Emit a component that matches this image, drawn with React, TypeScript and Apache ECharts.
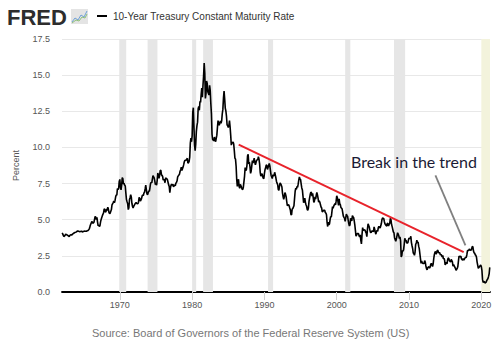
import React, { useEffect, useRef } from "react";
import * as echarts from "echarts";

// Monthly 10-year Treasury constant maturity rate (%), Jan 1962 onward
const r1960s = [
  4.08, 4.04, 3.93, 3.84, 3.87, 3.91, 4.01, 3.98, 3.98, 3.93, 3.92, 3.86,
  3.83, 3.92, 3.93, 3.97, 3.93, 3.99, 4.02, 4.0, 4.08, 4.11, 4.12, 4.13,
  4.17, 4.15, 4.22, 4.23, 4.2, 4.17, 4.19, 4.19, 4.2, 4.19, 4.15, 4.18,
  4.19, 4.21, 4.21, 4.2, 4.21, 4.21, 4.2, 4.25, 4.29, 4.35, 4.45, 4.62,
  4.61, 4.83, 4.87, 4.75, 4.78, 4.81, 5.02, 5.22, 5.18, 5.01, 5.16, 4.84,
  4.58, 4.63, 4.54, 4.59, 4.85, 5.02, 5.16, 5.28, 5.3, 5.48, 5.75, 5.7,
  5.53, 5.56, 5.74, 5.64, 5.87, 5.72, 5.5, 5.42, 5.46, 5.58, 5.7, 6.03,
  6.04, 6.19, 6.3, 6.17, 6.32, 6.57, 6.72, 6.69, 7.16, 7.1, 7.14, 7.65,
];
const r1970s = [
  7.79, 7.24, 7.07, 7.39, 7.91, 7.84, 7.46, 7.53, 7.39, 7.33, 6.84, 6.39,
  6.24, 6.11, 5.7, 5.83, 6.39, 6.52, 6.73, 6.58, 6.14, 5.93, 5.81, 5.93,
  5.95, 6.08, 6.07, 6.19, 6.13, 6.11, 6.11, 6.21, 6.55, 6.48, 6.28, 6.36,
  6.46, 6.64, 6.71, 6.67, 6.85, 6.9, 7.13, 7.4, 7.09, 6.79, 6.73, 6.74,
  6.99, 6.96, 7.21, 7.51, 7.58, 7.54, 7.81, 8.04, 8.04, 7.9, 7.68, 7.43,
  7.5, 7.39, 7.73, 8.23, 8.06, 7.86, 8.06, 8.4, 8.43, 8.14, 8.05, 8.0,
  7.74, 7.79, 7.73, 7.56, 7.9, 7.86, 7.83, 7.77, 7.59, 7.41, 7.29, 6.87,
  7.21, 7.39, 7.46, 7.37, 7.46, 7.28, 7.33, 7.4, 7.34, 7.52, 7.58, 7.69,
  7.96, 8.03, 8.04, 8.15, 8.35, 8.46, 8.64, 8.41, 8.42, 8.64, 8.81, 9.01,
  9.1, 9.1, 9.12, 9.18, 9.25, 8.91, 8.95, 9.03, 9.33, 10.3, 10.65, 10.39,
];
const r1980s = [
  10.8, 12.41, 12.75, 11.47, 10.18, 9.78, 10.25, 11.1, 11.51, 11.75, 12.68, 12.84,
  12.57, 13.19, 13.12, 13.68, 14.1, 13.47, 14.28, 14.94, 15.84, 15.15, 13.39, 13.72,
  14.59, 14.43, 13.86, 13.87, 13.62, 14.3, 13.95, 13.06, 12.34, 10.91, 10.55, 10.54,
  10.46, 10.72, 10.51, 10.4, 10.38, 10.85, 11.38, 11.85, 11.65, 11.54, 11.69, 11.83,
  11.67, 11.84, 12.32, 12.63, 13.41, 13.9, 13.36, 12.72, 12.52, 12.16, 11.57, 11.5,
  11.38, 11.51, 11.86, 11.43, 10.85, 10.16, 10.31, 10.33, 10.37, 10.24, 9.78, 9.26,
  9.19, 8.7, 7.78, 7.3, 7.71, 7.8, 7.3, 7.17, 7.45, 7.43, 7.25, 7.11,
  7.08, 7.25, 7.25, 8.02, 8.61, 8.4, 8.45, 8.76, 9.42, 9.52, 8.86, 8.99,
  8.67, 8.21, 8.37, 8.72, 9.09, 8.92, 9.06, 9.26, 8.98, 8.8, 8.96, 9.11,
  9.09, 9.17, 9.36, 9.18, 8.86, 8.28, 8.02, 8.11, 8.19, 8.01, 7.87, 7.84,
];
const r1990s = [
  8.21, 8.47, 8.59, 8.79, 8.76, 8.48, 8.47, 8.75, 8.89, 8.72, 8.39, 8.08,
  8.09, 7.85, 8.11, 8.04, 8.07, 8.28, 8.27, 7.9, 7.65, 7.53, 7.42, 7.09,
  7.03, 7.34, 7.54, 7.48, 7.39, 7.26, 6.84, 6.59, 6.42, 6.59, 6.87, 6.77,
  6.6, 6.26, 5.98, 5.97, 6.04, 5.96, 5.81, 5.68, 5.36, 5.33, 5.72, 5.77,
  5.75, 5.97, 6.48, 6.97, 7.18, 7.1, 7.3, 7.24, 7.46, 7.74, 7.96, 7.81,
  7.78, 7.47, 7.2, 7.06, 6.63, 6.17, 6.28, 6.49, 6.2, 6.04, 5.93, 5.71,
  5.65, 5.81, 6.27, 6.51, 6.74, 6.91, 6.87, 6.64, 6.83, 6.53, 6.2, 6.3,
  6.58, 6.42, 6.69, 6.89, 6.71, 6.49, 6.22, 6.3, 6.21, 6.03, 5.88, 5.81,
  5.54, 5.57, 5.65, 5.64, 5.65, 5.5, 5.46, 5.34, 4.81, 4.53, 4.83, 4.65,
  4.72, 5.0, 5.23, 5.18, 5.54, 5.9, 5.79, 5.94, 5.92, 6.11, 6.03, 6.28,
];
const r2000s = [
  6.66, 6.52, 6.26, 5.99, 6.44, 6.1, 6.05, 5.83, 5.8, 5.74, 5.72, 5.24,
  5.16, 5.1, 4.89, 5.14, 5.39, 5.28, 5.24, 4.97, 4.73, 4.57, 4.65, 5.09,
  5.04, 4.91, 5.28, 5.21, 5.16, 4.93, 4.65, 4.26, 3.87, 3.94, 4.05, 4.03,
  4.05, 3.9, 3.81, 3.96, 3.57, 3.33, 3.98, 4.45, 4.27, 4.29, 4.3, 4.27,
  4.15, 4.08, 3.83, 4.35, 4.72, 4.73, 4.5, 4.28, 4.13, 4.1, 4.19, 4.23,
  4.22, 4.17, 4.5, 4.34, 4.14, 4.0, 4.18, 4.26, 4.2, 4.46, 4.54, 4.47,
  4.42, 4.57, 4.72, 4.99, 5.11, 5.11, 5.09, 4.88, 4.72, 4.73, 4.6, 4.56,
  4.76, 4.72, 4.56, 4.69, 4.75, 5.1, 5.0, 4.67, 4.52, 4.53, 4.15, 4.1,
  3.74, 3.74, 3.51, 3.68, 3.88, 4.1, 4.01, 3.89, 3.69, 3.81, 3.53, 2.42,
  2.52, 2.87, 2.82, 2.93, 3.29, 3.72, 3.56, 3.59, 3.4, 3.39, 3.4, 3.59,
];
const r2010s = [
  3.73, 3.69, 3.73, 3.85, 3.42, 3.2, 3.01, 2.7, 2.65, 2.54, 2.76, 3.29,
  3.39, 3.58, 3.41, 3.46, 3.17, 3.0, 3.0, 2.3, 1.98, 2.15, 2.01, 1.98,
  1.97, 1.97, 2.17, 2.05, 1.8, 1.62, 1.53, 1.68, 1.72, 1.75, 1.65, 1.72,
  1.91, 1.98, 1.96, 1.76, 1.93, 2.3, 2.58, 2.74, 2.81, 2.62, 2.72, 2.9,
  2.86, 2.71, 2.72, 2.71, 2.56, 2.6, 2.54, 2.42, 2.53, 2.3, 2.33, 2.21,
  1.88, 1.98, 2.04, 1.94, 2.2, 2.36, 2.32, 2.17, 2.17, 2.07, 2.26, 2.24,
  2.09, 1.78, 1.89, 1.81, 1.81, 1.64, 1.5, 1.56, 1.63, 1.76, 2.14, 2.49,
  2.43, 2.42, 2.48, 2.3, 2.3, 2.19, 2.32, 2.21, 2.2, 2.36, 2.35, 2.4,
  2.58, 2.86, 2.84, 2.87, 2.98, 2.91, 2.89, 2.89, 3.0, 3.15, 3.12, 2.83,
  2.71, 2.68, 2.57, 2.53, 2.4, 2.07, 2.06, 1.63, 1.7, 1.71, 1.81, 1.86,
];
const r2020s = [1.76, 1.5, 0.87, 0.66, 0.67, 0.73, 0.62, 0.65, 0.68, 0.79, 0.87, 0.93, 1.08, 1.26, 1.7];

const startYear = 1962;
const yearTicks = [1970, 1980, 1990, 2000, 2010, 2020];
const recessions: [number, number][] = [
  [1969.92, 1970.88],
  [1973.84, 1975.2],
  [1980.0, 1980.56],
  [1981.52, 1982.88],
  [1990.5, 1991.2],
  [2001.17, 2001.88],
  [2007.92, 2009.46],
];
const currentPeriod: [number, number] = [2020.0, 2021.2];
const trendLine: [number, number][] = [
  [1986.44, 10.2],
  [2017.56, 2.76],
];
const pointerLine: [number, number][] = [
  [2013.65, 8.06],
  [2017.8, 3.22],
];

export default function App() {
  const ref = useRef<HTMLDivElement>(null);
  useEffect(() => {
    if (!ref.current) return;
    const chart = echarts.init(ref.current, null, { renderer: "svg" });
    const rates = [...r1960s, ...r1970s, ...r1980s, ...r1990s, ...r2000s, ...r2010s, ...r2020s];
    const data = rates.map((v, i) => [startYear + i / 12, v]);
    const font = "'Liberation Sans', Arial, sans-serif";
    chart.setOption({
      animation: false,
      backgroundColor: "#ffffff",
      grid: { left: 62, right: 10, top: 39, bottom: 58 },
      xAxis: {
        type: "value",
        min: 1962,
        max: 2021.2,
        splitLine: { show: false },
        axisLine: { show: true, onZero: false, lineStyle: { color: "#000", width: 1.8 } },
        axisTick: { show: true, length: 8, customValues: yearTicks, lineStyle: { color: "#d0d0d0" } },
        axisLabel: {
          customValues: yearTicks,
          color: "#555",
          fontSize: 9,
          fontFamily: font,
          margin: 8,
          formatter: (v: number) => String(Math.round(v)),
        },
      },
      yAxis: {
        type: "value",
        min: 0,
        max: 17.5,
        interval: 2.5,
        name: "Percent",
        nameLocation: "middle",
        nameGap: 42,
        nameTextStyle: { color: "#555", fontSize: 9, fontFamily: font },
        axisLine: { show: false },
        axisTick: { show: false },
        splitLine: { lineStyle: { color: "#e8e8e8", width: 1 } },
        axisLabel: {
          color: "#555",
          fontSize: 9,
          fontFamily: font,
          margin: 12,
          formatter: (v: number) => v.toFixed(1),
        },
      },
      series: [
        {
          type: "line",
          data: [],
          z: 1,
          silent: true,
          markArea: {
            silent: true,
            itemStyle: { color: "#e6e6e6" },
            data: [
              ...recessions.map(([a, b]) => [{ xAxis: a }, { xAxis: b }]),
              [
                { xAxis: currentPeriod[0], itemStyle: { color: "#f3f3dc" } },
                { xAxis: currentPeriod[1] },
              ],
            ],
          },
        },
        {
          type: "line",
          data,
          z: 3,
          showSymbol: false,
          symbol: "none",
          lineStyle: { color: "#000", width: 1.6 },
          markLine: {
            silent: true,
            symbol: "none",
            label: { show: false },
            data: [
              [
                { coord: trendLine[0], lineStyle: { color: "#e8232b", width: 2, type: "solid" } },
                { coord: trendLine[1] },
              ],
              [
                { coord: pointerLine[0], lineStyle: { color: "#808080", width: 1.8, type: "solid" } },
                { coord: pointerLine[1] },
              ],
            ],
          },
        },
      ],
      graphic: [
        {
          type: "text",
          left: 7,
          top: 6,
          style: { text: "FRED", font: "900 22px 'Liberation Sans', Arial, sans-serif", fill: "#2d2d2d" },
        },
        { type: "rect", shape: { x: 71, y: 9, width: 17, height: 15 }, style: { fill: "#e4e4e4" } },
        {
          type: "polyline",
          shape: { points: [[72, 22], [75, 18], [78, 20], [81, 15], [84, 17], [87, 11]] },
          style: { stroke: "#6fa0d8", lineWidth: 1, fill: null },
        },
        {
          type: "polyline",
          shape: { points: [[72, 23], [76, 20], [79, 21], [82, 17], [85, 18], [87, 14]] },
          style: { stroke: "#8fc07a", lineWidth: 1, fill: null },
        },
        { type: "line", shape: { x1: 97, y1: 16, x2: 107, y2: 16 }, style: { stroke: "#000", lineWidth: 2 } },
        {
          type: "text",
          x: 113,
          y: 16,
          style: {
            text: "10-Year Treasury Constant Maturity Rate",
            font: "10px 'Liberation Sans', Arial, sans-serif",
            fill: "#333",
            verticalAlign: "middle",
          },
        },
        {
          type: "text",
          x: 351,
          y: 161,
          z: 10,
          style: {
            text: "Break in the trend",
            font: "16px Lato, 'Open Sans', sans-serif",
            fill: "#1b1b35",
            verticalAlign: "middle",
          },
        },
        {
          type: "text",
          x: 92,
          y: 333,
          style: {
            text: "Source: Board of Governors of the Federal Reserve System (US)",
            font: "11px 'Liberation Sans', Arial, sans-serif",
            fill: "#777",
            verticalAlign: "middle",
          },
        },
      ],
    });
    return () => chart.dispose();
  }, []);
  return <div ref={ref} style={{ position: "fixed", left: 0, top: 0, width: 500, height: 350 }} />;
}
